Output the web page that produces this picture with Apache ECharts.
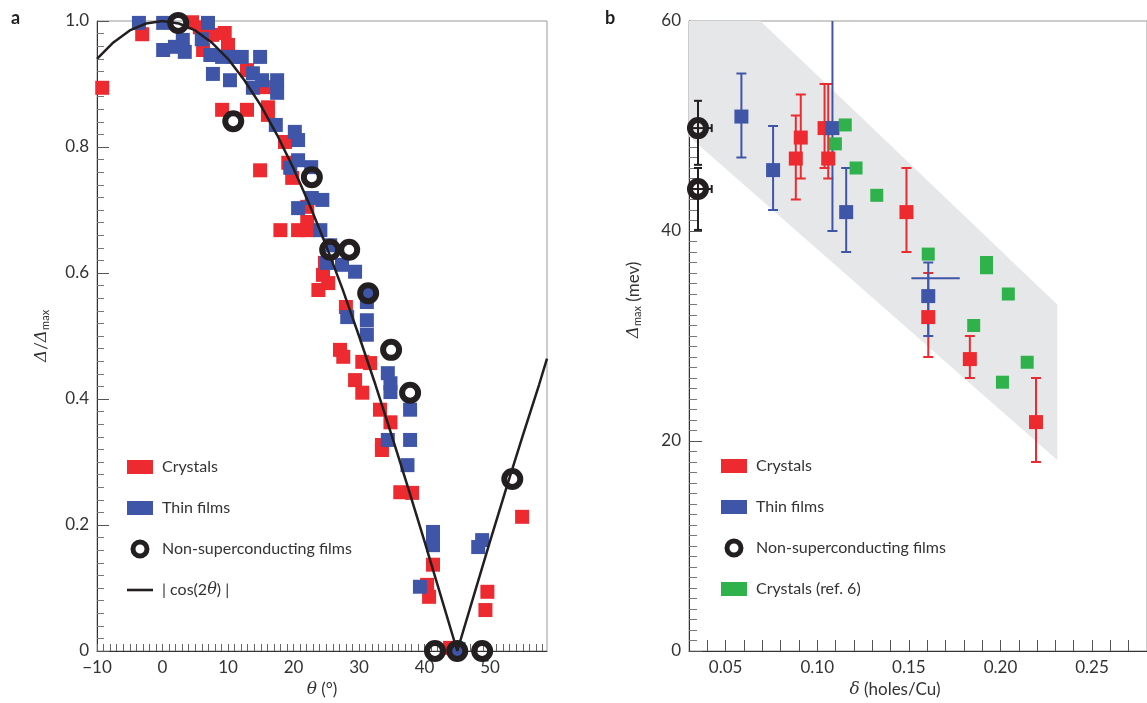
<!DOCTYPE html>
<html>
<head>
<meta charset="utf-8">
<script src="https://cdn.jsdelivr.net/npm/echarts@6/dist/echarts.min.js"></script>
<style>
  html, body { margin: 0; padding: 0; background: #fff; }
  #chart { width: 1147px; height: 703px; }
</style>
</head>
<body>
<div id="chart"></div>
<script>
// ---- panel a : [theta (deg), gap / gap max]
const crystalsA = [[-9.2,0.894],[-3.1,0.979],[4.5,0.998],[5.7,0.99],[7.6,0.978],[9.5,0.981],[10.0,0.962],[6.2,0.954],
  [9.1,0.859],[12.9,0.859],[12.9,0.922],[15.7,0.895],[16.1,0.863],[16.1,0.851],[14.9,0.763],[18.7,0.808],[19.2,0.775],
  [19.8,0.751],[18.0,0.668],[20.7,0.668],[22.1,0.681],[22.1,0.705],[22.1,0.668],[24.5,0.597],[25.3,0.584],[23.8,0.573],
  [24.8,0.616],[28.0,0.546],[27.1,0.478],[27.6,0.467],[30.5,0.459],[31.7,0.457],[29.4,0.43],[30.5,0.41],[33.2,0.383],
  [34.8,0.363],[33.5,0.327],[33.5,0.319],[36.3,0.252],[38.1,0.251],[41.3,0.137],[40.4,0.105],[40.7,0.086],[54.9,0.213],
  [49.6,0.094],[49.3,0.065],[43.9,0.005]];
const filmsA = [[-3.6,0.997],[0.1,0.997],[6.95,0.997],[0.1,0.954],[1.9,0.959],[3.4,0.951],[3.1,0.97],[6.0,0.971],
  [7.3,0.946],[9.1,0.943],[10.8,0.943],[12.1,0.943],[14.9,0.943],[7.7,0.916],[10.3,0.906],[13.8,0.917],[13.8,0.894],
  [15.2,0.906],[17.5,0.906],[17.5,0.886],[17.3,0.835],[20.2,0.824],[20.7,0.811],[20.7,0.779],[19.5,0.767],[22.7,0.768],
  [22.8,0.719],[24.4,0.716],[20.7,0.703],[24.1,0.668],[25.6,0.644],[25.1,0.616],[27.4,0.613],[29.4,0.602],[31.2,0.568],
  [31.2,0.554],[28.2,0.53],[31.2,0.525],[31.2,0.502],[34.4,0.441],[34.8,0.425],[34.8,0.411],[37.8,0.383],[34.4,0.335],
  [37.8,0.335],[37.4,0.295],[41.3,0.189],[41.3,0.168],[48.8,0.176],[48.2,0.165],[39.3,0.102],[45.2,0.003]];
const nonScA = [[2.4,0.997],[10.8,0.841],[22.8,0.752],[25.6,0.637],[28.5,0.637],[31.4,0.568],[34.9,0.478],
  [37.8,0.41],[53.4,0.273],[41.6,0],[45,0],[48.8,0]];
// |cos(2 theta)| curve
const curveTheta = [-10,-7.5,-5,-2.5,0,2.5,5,7.5,10,12.5,15,17.5,20,22.5,25,27.5,30,32.5,35,37.5,40,42.5,45,47.5,50,52.5,55,57.5,58.7];
const curveValue = [0.94,0.966,0.985,0.996,1,0.996,0.985,0.966,0.94,0.906,0.866,0.819,0.766,0.707,0.643,0.574,0.5,0.423,
  0.342,0.259,0.174,0.087,0,0.087,0.174,0.259,0.342,0.423,0.464];
const thetaLabels = [-10, 0, 10, 20, 30, 40, 50];

// ---- panel b : [doping, gap max (meV), err low, err high]
const crystalsB = [[0.0883,46.9,43,51],[0.091,48.9,45,53],[0.104,49.8,46,54],[0.106,46.9,45,54],
  [0.1487,41.8,38,46],[0.1606,31.8,28,36],[0.1833,27.8,26,30],[0.2194,21.8,18,26]];
const filmsB = [[0.0586,50.9,47,55],[0.0759,45.8,42,50],[0.1083,49.8,40,62],[0.1158,41.8,38,46],[0.1606,33.8,30,37]];
const nonScB = [[0.0349,49.8,46.3,52.4],[0.0349,44.0,40.1,46.0]];
const ref6B = [[0.1153,50.1],[0.1099,48.3],[0.1212,46.0],[0.1325,43.4],[0.1606,37.8],[0.1924,36.5],[0.1924,37.0],
  [0.2043,34.0],[0.1854,31.0],[0.2011,25.6],[0.2146,27.5]];
// horizontal error bars: [gap, doping low, doping high]
const filmsBxErr = [[35.5,0.1514,0.1778]];
const nonScBxErr = [[49.8,0.0275,0.0424],[44.0,0.0275,0.0424]];
// shaded band vertices
const bandB = [[0.03,60],[0.069,60],[0.231,33],[0.231,18.2],[0.03,49]];
const deltaLabels = [0.05, 0.10, 0.15, 0.20, 0.25];

// tick marks: every degree / every 0.01 holes
const thetaTicks = Array.from({ length: 69 }, (_, i) => -10 + i);
const deltaTicks = Array.from({ length: 25 }, (_, i) => +(0.04 + i * 0.01).toFixed(2));

const RED = '#ec2a2f', BLUE = '#3f56a8', GREEN = '#2fb24b', BLACK = '#231f20';
const FONT = 'Lato';

const mychart = echarts.init(document.getElementById('chart'));

function vErr(cap) {
  return function (params, api) {
    const a = api.coord([api.value(0), api.value(2)]);
    const b = api.coord([api.value(0), api.value(3)]);
    const st = { stroke: api.visual('color'), lineWidth: 2 };
    return { type: 'group', children: [
      { type: 'line', shape: { x1: a[0], y1: a[1], x2: b[0], y2: b[1] }, style: st },
      { type: 'line', shape: { x1: a[0] - cap, y1: a[1], x2: a[0] + cap, y2: a[1] }, style: st },
      { type: 'line', shape: { x1: b[0] - cap, y1: b[1], x2: b[0] + cap, y2: b[1] }, style: st }
    ] };
  };
}
function hErr(cap) {
  return function (params, api) {
    const a = api.coord([api.value(1), api.value(0)]);
    const b = api.coord([api.value(2), api.value(0)]);
    const st = { stroke: api.visual('color'), lineWidth: 2 };
    const kids = [{ type: 'line', shape: { x1: a[0], y1: a[1], x2: b[0], y2: b[1] }, style: st }];
    if (cap) {
      kids.push({ type: 'line', shape: { x1: a[0], y1: a[1] - cap, x2: a[0], y2: a[1] + cap }, style: st });
      kids.push({ type: 'line', shape: { x1: b[0], y1: b[1] - cap, x2: b[0], y2: b[1] + cap }, style: st });
    }
    return { type: 'group', children: kids };
  };
}

const ring = { color: 'rgba(0,0,0,0)', borderColor: BLACK, borderWidth: 6, opacity: 1 };
const tickLbl = { color: '#333', fontSize: 17, fontFamily: FONT };
const nameRich = {
  it: { fontStyle: 'italic', fontSize: 17, fontFamily: 'DejaVu Serif', color: '#333' },
  tx: { fontSize: 17, fontFamily: FONT, color: '#333' },
  sub: { fontSize: 11, fontFamily: FONT, color: '#333', padding: [7, 0, 0, 0] }
};
const nameStyle = { fontSize: 17, fontFamily: FONT, color: '#333', rich: nameRich };
const legendText = { fontSize: 16, color: '#333', lineHeight: 20, padding: [0, 0, 0, 4],
  rich: { it: { fontStyle: 'italic', fontSize: 16, fontFamily: 'DejaVu Serif', color: '#333' },
          tx: { fontSize: 16, fontFamily: FONT, color: '#333' } } };
const ringLegend = { name: 'Non-superconducting films', icon: 'circle',
  itemStyle: { color: 'rgba(0,0,0,0)', borderColor: BLACK, borderWidth: 5, opacity: 1 } };

mychart.setOption({
  animation: false,
  textStyle: { fontFamily: FONT },
  title: [
    { text: 'a', left: 6, top: 4, textStyle: { fontSize: 18, fontWeight: 'bold', color: BLACK } },
    { text: 'b', left: 600, top: 4, textStyle: { fontSize: 18, fontWeight: 'bold', color: BLACK } }
  ],
  legend: [
    { orient: 'vertical', left: 122, top: 452, itemWidth: 26, itemHeight: 14, itemGap: 21,
      textStyle: legendText, selectedMode: false,
      formatter: n => (n === '|cos(2θ)|' ? '{tx|| cos(2}{it|θ}{tx|) |}' : n),
      data: ['Crystals', 'Thin films', ringLegend,
        { name: '|cos(2θ)|', icon: 'path://M0,0 L26,0 L26,2.6 L0,2.6 Z', itemStyle: { color: BLACK, opacity: 1 } }] },
    { orient: 'vertical', left: 716, top: 451, itemWidth: 26, itemHeight: 14, itemGap: 21,
      textStyle: legendText, selectedMode: false,
      data: ['Crystals', 'Thin films', ringLegend, 'Crystals (ref. 6)'] }
  ],
  grid: [
    { left: 97, top: 21, width: 450, height: 630, show: true, borderColor: '#999', borderWidth: 1 },
    { left: 689, top: 21, width: 463, height: 630, show: true, borderColor: '#999', borderWidth: 1 }
  ],
  xAxis: [
    { gridIndex: 0, type: 'value', min: -10, max: 58.7,
      name: '{it|θ}{tx| (°)}', nameLocation: 'middle', nameGap: 26, nameTextStyle: nameStyle,
      axisLine: { onZero: false, lineStyle: { color: '#333' } },
      axisTick: { inside: true, length: 7, customValues: thetaTicks, lineStyle: { color: '#666' } },
      axisLabel: { ...tickLbl, margin: 8, customValues: thetaLabels,
        formatter: v => String(v).replace('-', '−') },
      splitLine: { show: false } },
    { gridIndex: 1, type: 'value', min: 0.03, max: 0.28,
      name: '{it|δ}{tx| (holes/Cu)}', nameLocation: 'middle', nameGap: 26,
      nameTextStyle: { ...nameStyle, padding: [0, 46, 0, 0] },
      axisLine: { onZero: false, lineStyle: { color: '#333' } },
      axisTick: { inside: true, length: 11, customValues: deltaTicks, lineStyle: { color: '#555' } },
      axisLabel: { ...tickLbl, margin: 8, customValues: deltaLabels, formatter: v => v.toFixed(2) },
      splitLine: { show: false } }
  ],
  yAxis: [
    { gridIndex: 0, type: 'value', min: 0, max: 1, interval: 0.2,
      name: '{it|Δ}{tx|/}{it|Δ}{sub|max}', nameLocation: 'middle', nameGap: 46, nameRotate: 90,
      nameTextStyle: nameStyle,
      axisLine: { onZero: false, lineStyle: { color: '#333' } },
      axisTick: { inside: true, length: 12, lineStyle: { color: '#555' } },
      minorTick: { show: true, splitNumber: 10, length: 7, lineStyle: { color: '#777' } },
      axisLabel: { ...tickLbl, margin: 8, formatter: v => (v === 0 ? '0' : v.toFixed(1)) },
      splitLine: { show: false } },
    { gridIndex: 1, type: 'value', min: 0, max: 60, interval: 20,
      name: '{it|Δ}{sub|max}{tx| (mev)}', nameLocation: 'middle', nameGap: 46, nameRotate: 90,
      nameTextStyle: { ...nameStyle, padding: [0, 0, 0, 72] },
      axisLine: { onZero: false, lineStyle: { color: '#333' } },
      axisTick: { inside: true, length: 13, lineStyle: { color: '#555' } },
      minorTick: { show: true, splitNumber: 20, length: 8, lineStyle: { color: '#777' } },
      axisLabel: { ...tickLbl, margin: 8 },
      splitLine: { show: false } }
  ],
  series: [
    // panel a
    { name: 'Crystals', type: 'scatter', xAxisIndex: 0, yAxisIndex: 0, symbol: 'rect', symbolSize: 14,
      itemStyle: { color: RED, opacity: 1 }, z: 3, data: crystalsA },
    { name: 'Thin films', type: 'scatter', xAxisIndex: 0, yAxisIndex: 0, symbol: 'rect', symbolSize: 14,
      itemStyle: { color: BLUE, opacity: 1 }, z: 3, data: filmsA },
    { name: '|cos(2θ)|', type: 'line', xAxisIndex: 0, yAxisIndex: 0, symbol: 'none', z: 4,
      lineStyle: { color: BLACK, width: 2.5 }, itemStyle: { color: BLACK },
      data: curveTheta.map((t, i) => [t, curveValue[i]]) },
    { name: 'Non-superconducting films', type: 'scatter', xAxisIndex: 0, yAxisIndex: 0, symbol: 'circle',
      symbolSize: 16, itemStyle: ring, z: 5, data: nonScA },
    // panel b
    { name: 'band', type: 'custom', xAxisIndex: 1, yAxisIndex: 1, z: 1, clip: true, silent: true,
      renderItem: (params, api) => params.dataIndex === 0
        ? { type: 'polygon', shape: { points: bandB.map(p => api.coord(p)) }, style: { fill: '#e6e7e9' } }
        : null,
      data: bandB },
    { name: 'errRed', type: 'custom', xAxisIndex: 1, yAxisIndex: 1, z: 2, clip: true,
      itemStyle: { color: RED }, renderItem: vErr(5), encode: { x: 0, y: [2, 3] }, data: crystalsB },
    { name: 'errBlue', type: 'custom', xAxisIndex: 1, yAxisIndex: 1, z: 2, clip: true,
      itemStyle: { color: BLUE }, renderItem: vErr(5), encode: { x: 0, y: [2, 3] }, data: filmsB },
    { name: 'errBlueX', type: 'custom', xAxisIndex: 1, yAxisIndex: 1, z: 2, clip: true,
      itemStyle: { color: BLUE }, renderItem: hErr(0), encode: { x: [1, 2], y: 0 }, data: filmsBxErr },
    { name: 'errBlack', type: 'custom', xAxisIndex: 1, yAxisIndex: 1, z: 2, clip: true,
      itemStyle: { color: BLACK }, renderItem: vErr(4), encode: { x: 0, y: [2, 3] }, data: nonScB },
    { name: 'errBlackX', type: 'custom', xAxisIndex: 1, yAxisIndex: 1, z: 2, clip: true,
      itemStyle: { color: BLACK }, renderItem: hErr(4), encode: { x: [1, 2], y: 0 }, data: nonScBxErr },
    { name: 'Crystals', type: 'scatter', xAxisIndex: 1, yAxisIndex: 1, symbol: 'rect', symbolSize: 14,
      itemStyle: { color: RED, opacity: 1 }, z: 3, data: crystalsB.map(d => [d[0], d[1]]) },
    { name: 'Thin films', type: 'scatter', xAxisIndex: 1, yAxisIndex: 1, symbol: 'rect', symbolSize: 14,
      itemStyle: { color: BLUE, opacity: 1 }, z: 3, data: filmsB.map(d => [d[0], d[1]]) },
    { name: 'Crystals (ref. 6)', type: 'scatter', xAxisIndex: 1, yAxisIndex: 1, symbol: 'rect', symbolSize: 13,
      itemStyle: { color: GREEN, opacity: 1 }, z: 3, data: ref6B },
    { name: 'Non-superconducting films', type: 'scatter', xAxisIndex: 1, yAxisIndex: 1, symbol: 'circle',
      symbolSize: 16, itemStyle: ring, z: 5, data: nonScB.map(d => [d[0], d[1]]) }
  ]
});
</script>
</body>
</html>
